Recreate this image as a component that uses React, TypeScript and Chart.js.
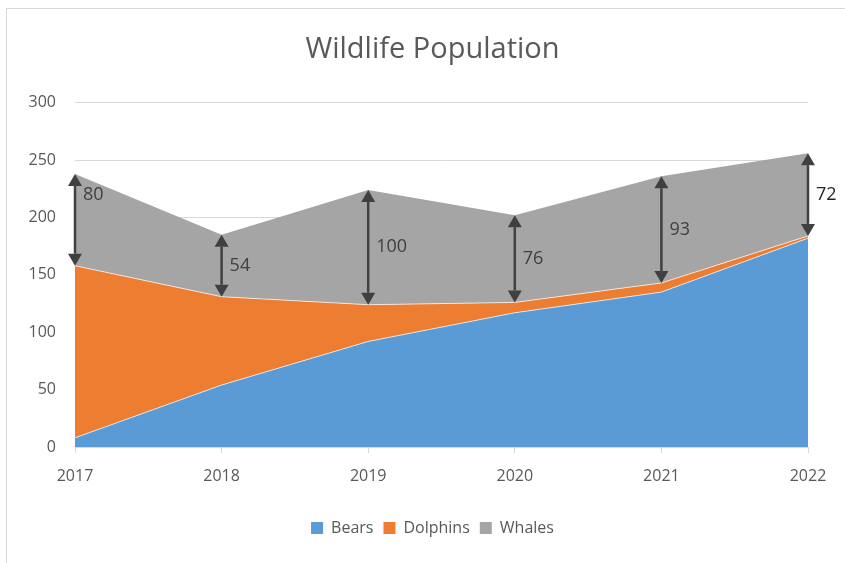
import { useEffect, useRef } from 'react'
import { Chart, registerables } from 'chart.js'

Chart.register(...registerables)

const YEARS = ['2017', '2018', '2019', '2020', '2021', '2022']
const BEARS = [8, 54, 92, 117, 135, 182]
const DOLPHINS = [150, 77, 32, 9, 8, 2]
const WHALES = [80, 54, 100, 76, 93, 72]

const FONT = '"Open Sans", sans-serif'
const TEXT = '#595959'
const ARROW = '#404040'

// double-headed arrows showing the whales band at each year
const arrowPlugin = {
  id: 'whaleArrows',
  afterDatasetsDraw(chart: Chart) {
    const { ctx } = chart
    const xs = chart.scales.x
    const ys = chart.scales.y
    ctx.save()
    YEARS.forEach((_, i) => {
      const base = BEARS[i] + DOLPHINS[i]
      const x = xs.getPixelForValue(i)
      const yTop = ys.getPixelForValue(base + WHALES[i])
      const yBot = ys.getPixelForValue(base)
      const head = 12
      const hw = 7
      ctx.strokeStyle = ARROW
      ctx.fillStyle = ARROW
      ctx.lineWidth = 2.5
      ctx.beginPath()
      ctx.moveTo(x, yTop + head)
      ctx.lineTo(x, yBot - head)
      ctx.stroke()
      ctx.beginPath()
      ctx.moveTo(x, yTop)
      ctx.lineTo(x - hw, yTop + head)
      ctx.lineTo(x + hw, yTop + head)
      ctx.closePath()
      ctx.fill()
      ctx.beginPath()
      ctx.moveTo(x, yBot)
      ctx.lineTo(x - hw, yBot - head)
      ctx.lineTo(x + hw, yBot - head)
      ctx.closePath()
      ctx.fill()
      const nudge = i === 0 ? -25 : 0
      ctx.font = `18px ${FONT}`
      ctx.textAlign = 'left'
      ctx.textBaseline = 'middle'
      ctx.fillStyle = i === YEARS.length - 1 ? '#262626' : ARROW
      ctx.fillText(String(WHALES[i]), x + 8, (yTop + yBot) / 2 + nudge)
    })
    ctx.restore()
  },
}

export default function App() {
  const canvasRef = useRef<HTMLCanvasElement>(null)

  useEffect(() => {
    if (!canvasRef.current) return
    const chart = new Chart(canvasRef.current, {
      type: 'line',
      data: {
        labels: YEARS,
        datasets: [
          { label: 'Bears', data: BEARS, backgroundColor: '#5B9BD5', borderColor: 'rgba(255,255,255,0.7)', borderWidth: 1, fill: 'origin', pointRadius: 0, tension: 0 },
          { label: 'Dolphins', data: DOLPHINS, backgroundColor: '#ED7D31', borderColor: 'rgba(255,255,255,0.7)', borderWidth: 1, fill: '-1', pointRadius: 0, tension: 0 },
          { label: 'Whales', data: WHALES, backgroundColor: '#A5A5A5', borderColor: '#A5A5A5', borderWidth: 0, fill: '-1', pointRadius: 0, tension: 0 },
        ],
      },
      options: {
        responsive: false,
        animation: false,
        layout: { padding: { left: 20, right: 0, top: 0, bottom: 17 } },
        plugins: {
          title: {
            display: true,
            text: 'Wildlife Population',
            color: TEXT,
            font: { family: FONT, size: 29, weight: 'normal' },
            padding: { top: 32, bottom: 36 },
          },
          legend: {
            position: 'bottom',
            labels: {
              color: TEXT,
              font: { family: FONT, size: 16 },
              boxWidth: 12,
              boxHeight: 12,
              padding: 10,
              generateLabels: (c: Chart) =>
                c.data.datasets.map((d: any, i: number) => ({
                  text: d.label,
                  fillStyle: d.backgroundColor,
                  strokeStyle: d.backgroundColor,
                  lineWidth: 0,
                  datasetIndex: i,
                  fontColor: TEXT,
                })),
            },
          },
          tooltip: { enabled: false },
        },
        scales: {
          x: {
            offset: false,
            grid: { drawOnChartArea: false, drawTicks: true, tickLength: 6, color: '#d9d9d9' },
            border: { display: true, color: '#d9d9d9' },
            ticks: { color: TEXT, font: { family: FONT, size: 16 }, padding: 14, maxRotation: 0 },
            afterFit: (s: any) => { s.height = 63 },
          },
          y: {
            stacked: true,
            min: 0,
            max: 300,
            ticks: { stepSize: 50, color: TEXT, font: { family: FONT, size: 16 }, padding: 19 },
            grid: { color: '#d9d9d9', drawTicks: false },
            border: { display: false },
            afterFit: (s: any) => { s.width = 55 },
          },
          // empty right-hand axis, only to hold the gap on the right
          yRight: {
            position: 'right',
            min: 0,
            max: 300,
            grid: { display: false },
            ticks: { display: false },
            border: { display: false },
            afterFit: (s: any) => { s.width = 37 },
          },
        },
      },
      plugins: [arrowPlugin],
    })
    return () => chart.destroy()
  }, [])

  return (
    <div style={{ position: 'fixed', left: 0, top: 0, width: 845, height: 563, background: '#fff' }}>
      <div style={{ position: 'absolute', left: 6, top: 8, right: 0, bottom: 0, borderLeft: '1px solid #d9d9d9', borderTop: '1px solid #d9d9d9' }} />
      <canvas ref={canvasRef} width={845} height={563} style={{ position: 'absolute', left: 0, top: 0 }} />
    </div>
  )
}
